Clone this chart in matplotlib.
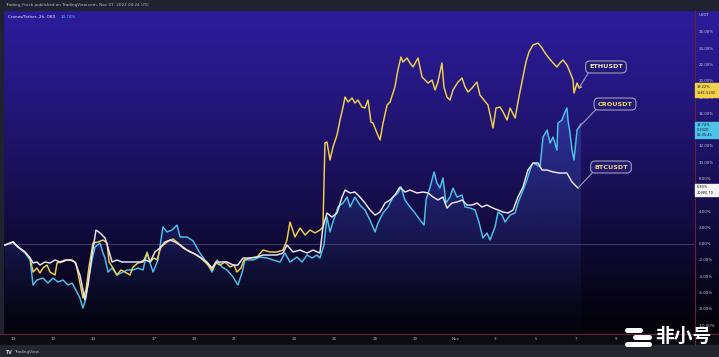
import numpy as np
import matplotlib
matplotlib.use("Agg")
import matplotlib.pyplot as plt
from matplotlib.patches import Rectangle, PathPatch

# ---------------- data (days since Oct 10 00:00 UTC, % change) ----------------
eth_days = [-0.40, 0.00, 0.25, 0.60, 0.85, 1.00, 1.19, 1.34, 1.49, 1.69,
            1.84, 2.09, 2.19, 2.44, 2.69, 2.94, 3.13, 3.33, 3.48, 3.63,
            3.78, 3.98, 4.23, 4.48, 4.68, 4.78, 4.98, 5.17, 5.37, 5.57,
            5.82, 5.97, 6.22, 6.47, 6.67, 6.82, 7.01, 7.16, 7.36, 7.66,
            7.96, 8.21, 8.46, 8.81, 9.15, 9.45, 9.70, 9.90, 10.10, 10.30,
            10.55, 10.80, 11.00, 11.14, 11.34, 11.49, 11.79, 12.14, 12.44, 12.79,
            13.13, 13.43, 13.63, 13.78, 14.03, 14.28, 14.53, 14.78, 15.02, 15.27,
            15.42, 15.52, 15.62, 15.77, 15.92, 16.12, 16.27, 16.42, 16.52, 16.67,
            16.87, 17.01, 17.16, 17.36, 17.51, 17.66, 17.81, 17.91, 18.11, 18.26,
            18.41, 18.61, 18.76, 19.00, 19.15, 19.30, 19.40, 19.60, 19.75, 19.90,
            20.15, 20.35, 20.50, 20.65, 20.85, 21.00, 21.14, 21.34, 21.44, 21.59,
            21.74, 21.89, 22.14, 22.34, 22.49, 22.64, 22.84, 23.08, 23.23, 23.43,
            23.63, 23.88, 24.03, 24.23, 24.38, 24.58, 24.73, 24.98, 25.17, 25.37,
            25.52, 25.67, 25.87, 26.12, 26.32, 26.47, 26.62, 26.87, 27.06, 27.21,
            27.36, 27.56, 27.71, 27.86, 27.91, 28.06, 28.16, 28.26]
eth_pct = [-0.17, 0.20, -0.42, -1.03, -1.77, -3.49, -3.00, -3.61, -3.00, -2.63,
           -3.49, -3.86, -2.38, -2.26, -2.01, -2.01, -2.38, -4.84, -6.68, -5.70,
           -2.87, 0.07, 0.20, 0.44, 0.07, -2.26, -3.00, -3.86, -3.24, -3.49,
           -3.86, -2.87, -2.38, -2.26, -1.16, -2.26, -1.77, -2.01, -0.42, 0.20,
           0.57, 0.07, -0.54, -1.03, -1.40, -2.01, -2.63, -3.24, -2.38, -2.63,
           -2.26, -2.87, -2.63, -3.49, -3.00, -2.01, -1.77, -1.65, -0.79, -1.03,
           -1.03, -0.79, 0.44, 2.65, 0.82, 1.92, 1.06, 1.67, 1.31, 1.67,
           2.04, 12.36, 12.48, 10.27, 11.87, 13.34, 15.18, 16.78, 18.01, 17.40,
           17.89, 17.27, 17.64, 16.78, 16.66, 17.64, 14.94, 14.81, 13.59, 12.73,
           14.81, 17.03, 17.40, 19.24, 21.33, 22.92, 22.31, 22.80, 22.19, 21.70,
           22.80, 20.47, 20.10, 19.73, 20.10, 18.87, 19.85, 22.19, 19.24, 18.01,
           17.64, 18.87, 19.85, 20.34, 19.24, 18.62, 19.12, 19.85, 18.26, 17.64,
           17.03, 14.20, 16.66, 16.78, 16.17, 15.18, 16.66, 15.43, 18.01, 20.47,
           22.31, 23.54, 24.40, 24.64, 24.03, 23.42, 22.92, 22.19, 21.70, 22.19,
           22.56, 21.94, 21.08, 20.10, 18.50, 19.73, 19.12, 19.24]

cro_days = [-0.40, 0.00, 0.25, 0.60, 0.85, 1.00, 1.19, 1.49, 1.74, 1.99,
            2.24, 2.49, 2.74, 2.94, 3.18, 3.33, 3.48, 3.63, 3.73, 3.93,
            4.08, 4.33, 4.48, 4.58, 4.73, 4.93, 5.17, 5.47, 5.67, 5.97,
            6.22, 6.47, 6.67, 6.82, 6.97, 7.21, 7.46, 7.66, 7.91, 8.16,
            8.31, 8.66, 8.96, 9.30, 9.65, 9.90, 10.15, 10.40, 10.65, 10.95,
            11.19, 11.39, 11.54, 11.94, 12.29, 12.64, 12.94, 13.28, 13.53, 13.78,
            14.13, 14.38, 14.63, 14.88, 15.12, 15.27, 15.47, 15.62, 15.77, 15.92,
            16.17, 16.42, 16.62, 16.77, 17.01, 17.26, 17.51, 17.76, 18.01, 18.16,
            18.41, 18.66, 18.91, 19.15, 19.30, 19.50, 19.75, 20.00, 20.25, 20.45,
            20.55, 20.75, 20.95, 21.09, 21.24, 21.39, 21.54, 21.74, 21.89, 22.09,
            22.34, 22.49, 22.74, 22.99, 23.18, 23.38, 23.58, 23.73, 23.98, 24.13,
            24.33, 24.48, 24.73, 24.98, 25.12, 25.32, 25.57, 25.72, 25.87, 26.07,
            26.22, 26.37, 26.57, 26.72, 26.87, 27.06, 27.11, 27.31, 27.46, 27.56,
            27.61, 27.71, 27.81, 27.91, 28.06, 28.16, 28.26]
cro_pct = [-0.17, 0.20, -0.42, -1.16, -2.01, -5.09, -4.47, -4.23, -4.84, -4.23,
           -4.72, -4.47, -5.09, -4.84, -5.95, -6.68, -7.91, -6.68, -4.84, -2.01,
           -0.42, 0.07, -1.16, -1.77, -3.49, -3.00, -3.86, -3.49, -3.24, -3.24,
           -3.00, -3.24, -1.03, -2.38, -3.49, -2.01, 2.04, 1.43, 1.67, 2.28,
           0.82, 0.82, 0.32, -1.16, -2.38, -3.49, -2.01, -2.87, -3.24, -4.10,
           -5.09, -3.61, -2.01, -2.01, -1.65, -1.77, -2.01, -2.26, -1.16, -2.26,
           -1.65, -2.26, -1.40, -1.77, -1.40, -1.77, -0.17, 3.27, 1.43, 2.65,
           4.50, 4.99, 5.72, 4.50, 5.72, 4.74, 4.13, 2.90, 1.43, 2.53,
           3.76, 4.50, 5.72, 6.22, 6.95, 5.36, 4.50, 3.76, 2.90, 2.28,
           5.36, 6.95, 8.80, 7.44, 6.83, 8.06, 4.99, 5.72, 6.83, 5.72,
           5.97, 4.50, 4.37, 4.13, 2.65, 0.69, 1.31, 0.44, 2.04, 3.88,
           3.51, 2.65, 3.51, 3.76, 4.99, 6.22, 7.81, 9.04, 9.90, 9.66,
           9.41, 13.10, 13.95, 12.36, 13.10, 11.50, 14.81, 15.18, 16.17, 16.66,
           15.18, 13.59, 11.50, 10.27, 13.95, 14.32, 14.69]

btc_days = [-0.40, 0.00, 0.25, 0.60, 0.85, 1.00, 1.19, 1.34, 1.59, 1.84,
            2.09, 2.34, 2.59, 2.84, 3.08, 3.33, 3.58, 3.73, 3.93, 4.13,
            4.33, 4.58, 4.73, 4.93, 5.17, 5.42, 5.67, 5.97, 6.32, 6.57,
            6.82, 7.06, 7.31, 7.56, 7.81, 8.06, 8.31, 8.66, 8.96, 9.30,
            9.65, 9.90, 10.10, 10.40, 10.65, 10.95, 11.19, 11.44, 11.79, 12.14,
            12.44, 12.79, 13.13, 13.43, 13.63, 13.93, 14.28, 14.63, 14.93, 15.27,
            15.42, 15.62, 15.87, 16.12, 16.37, 16.52, 16.77, 17.01, 17.26, 17.51,
            17.76, 18.01, 18.26, 18.51, 18.76, 19.00, 19.25, 19.50, 19.75, 20.10,
            20.40, 20.65, 20.90, 21.14, 21.39, 21.59, 21.84, 22.09, 22.34, 22.59,
            22.84, 23.08, 23.33, 23.58, 23.88, 24.13, 24.38, 24.63, 24.88, 25.12,
            25.37, 25.62, 25.87, 26.12, 26.32, 26.57, 26.87, 27.21, 27.56, 27.81,
            27.96, 28.11]
btc_pct = [-0.17, 0.20, -0.42, -1.03, -1.77, -2.38, -2.26, -2.63, -2.26, -2.38,
           -2.01, -2.26, -2.01, -2.01, -2.26, -3.86, -6.93, -5.09, -1.40, 1.67,
           1.31, 0.69, -0.54, -2.26, -2.01, -2.26, -2.26, -2.26, -2.26, -2.01,
           -2.26, -1.03, -0.54, 0.20, 0.44, 0.20, -0.17, -0.79, -1.16, -1.65,
           -2.26, -3.00, -2.26, -2.26, -2.26, -2.63, -2.63, -1.77, -1.77, -1.65,
           -1.40, -1.40, -1.40, -1.16, -0.17, -1.03, -0.79, -1.16, -0.79, -1.16,
           2.04, 3.76, 3.27, 3.76, 5.72, 6.58, 6.22, 6.34, 5.72, 4.99,
           4.13, 3.51, 3.88, 4.99, 5.36, 5.97, 6.95, 6.34, 6.58, 6.22,
           6.34, 6.22, 5.72, 5.36, 5.72, 4.37, 4.99, 5.11, 5.36, 4.74,
           4.74, 4.99, 4.50, 4.74, 4.37, 4.13, 3.88, 3.76, 4.13, 5.72,
           6.95, 9.04, 9.90, 9.90, 9.04, 9.04, 8.80, 8.67, 8.67, 7.57,
           7.20, 6.83]

x_tick_days = [0, 2, 4, 7, 9, 11, 14, 16, 18, 20, 22, 24, 26, 28, 30]
x_tick_labels = ["10", "12", "14", "17", "19", "21", "24", "26", "28", "30",
                 "Nov", "3", "5", "7", "9"]
y_ticks = list(range(-10, 27, 2))
y_ticks_hidden = [6, 14]          # covered by the last-value labels
series_names = ["ETHUSDT", "CROUSDT", "BTCUSDT"]
last_labels = {"ETHUSDT": ["19.22%", "1581.5200"],
               "CROUSDT": ["14.74%", "0.1020", "01:35:45"],
               "BTCUSDT": ["6.80%", "20980.70"]}

# ---------------- styling ----------------
W, H = 719, 357
ETH_C, CRO_C, BTC_C = "#f0d24a", "#4cc4ea", "#ece6fa"
AX_L, AX_R, AX_T, AX_B = 3, 694, 10, 333
XMIN, XMAX = -0.4975, 33.88
YMIN, YMAX = -10.98, 28.70

fig = plt.figure(figsize=(W / 100, H / 100), dpi=100)
fig.patch.set_facecolor("#1f2230")

bg = fig.add_axes([0, 0, 1, 1], zorder=0)
bg.set_xlim(0, W)
bg.set_ylim(H, 0)
bg.axis("off")

# vertical gradient background
stops_y = np.array([10, 80, 160, 240, 300, 333], dtype=float)
stops_c = np.array([[44, 28, 156], [38, 24, 132], [28, 17, 96],
                    [16, 10, 56], [6, 4, 22], [2, 2, 8]], dtype=float) / 255
yy = np.linspace(10, 333, 400)
grad = np.stack([np.interp(yy, stops_y, stops_c[:, k]) for k in range(3)], axis=1)
bg.imshow(grad[:, None, :], extent=[0, W, 333, 10], aspect="auto",
          interpolation="bilinear", zorder=0)
# header / footer / left strip
bg.add_patch(Rectangle((0, 0), W, 10, color="#1f2230", zorder=1))
bg.add_patch(Rectangle((0, 333), W, 12, color="#0b0b12", zorder=1))
bg.add_patch(Rectangle((0, 345), W, 12, color="#23262f", zorder=1))
bg.add_patch(Rectangle((0, 10), 3, 323, color="#1f2230", zorder=1))
# axis border lines
bg.plot([694.5, 694.5], [10, 345], color="#6a2035", lw=0.8, zorder=2)
bg.plot([0, W], [333.5, 333.5], color="#6a2035", lw=0.8, zorder=2)

bg.text(5, 5, "Trading_Fresh published on TradingView.com, Nov 07, 2022 04:24 UTC",
        fontsize=3.0, color="#b8bcc8", va="center", ha="left", zorder=3)
bg.text(8, 17, "Cronos/Tether, 2h, OKX", fontsize=3.0, color="#eeeeee",
        va="center", ha="left", zorder=3)
bg.text(61, 17, "14.74%", fontsize=3.0, color=CRO_C, va="center", ha="left", zorder=3)
bg.text(699, 15, "USDT", fontsize=2.9, color="#c8c8d0", va="center", ha="left", zorder=3)
bg.text(5, 352, "TV", fontsize=3.4, color="#d0d0d8", fontweight="bold",
        va="center", ha="left", zorder=3)
bg.text(14, 352, "TradingView", fontsize=3.0, color="#c0c0c8",
        va="center", ha="left", zorder=3)

# ---------------- main axes ----------------
ax = fig.add_axes([AX_L / W, (H - AX_B) / H, (AX_R - AX_L) / W, (AX_B - AX_T) / H],
                  zorder=2)
ax.patch.set_alpha(0)
for s in ax.spines.values():
    s.set_visible(False)

ax.axhline(0, color="#4a4470", lw=0.6, zorder=1)

# gradient fill under CRO line
fill = ax.fill_between(cro_days, cro_pct, YMIN, facecolor="none", edgecolor="none")
clip = PathPatch(fill.get_paths()[0], transform=ax.transData,
                 facecolor="none", edgecolor="none")
ax.add_patch(clip)
gy = np.linspace(0, 1, 256)
rgba = np.zeros((256, 1, 4))
rgba[..., 0] = 70 / 255
rgba[..., 1] = 115 / 255
rgba[..., 2] = 235 / 255
rgba[:, 0, 3] = 0.02 + 0.30 * gy ** 1.2
im = ax.imshow(rgba, extent=[min(cro_days), max(cro_days), YMIN, max(cro_pct)],
               origin="lower", aspect="auto", zorder=1.5, interpolation="bilinear")
im.set_clip_path(clip)

ax.plot(cro_days, cro_pct, color=CRO_C, lw=1.05, zorder=3, solid_joinstyle="round")
ax.plot(eth_days, eth_pct, color=ETH_C, lw=1.05, zorder=4, solid_joinstyle="round")
ax.plot(btc_days, btc_pct, color=BTC_C, lw=1.05, zorder=5, solid_joinstyle="round")

ax.set_xlim(XMIN, XMAX)
ax.set_ylim(YMIN, YMAX)

ax.set_xticks(x_tick_days)
ax.set_xticklabels(x_tick_labels)
ax.tick_params(axis="x", length=0, pad=3.2, labelsize=2.9, colors="#b4b4bc")
ax.yaxis.tick_right()
ax.set_yticks(y_ticks)
ax.set_yticklabels(["" if v in y_ticks_hidden else f"{v:.2f}%" for v in y_ticks])
ax.tick_params(axis="y", length=0, pad=3.5, labelsize=2.9, colors="#c8c8d0")

# callouts
box_kw = dict(boxstyle="round,pad=0.55,rounding_size=0.7", fc="#231a78",
              ec="#a09cb8", lw=0.8)
callouts = [
    ("ETHUSDT", (eth_days[-2], eth_pct[-2]), (29.50, 21.70), "#f4ecc8"),
    ("CROUSDT", (cro_days[-2], cro_pct[-2]), (29.95, 17.15), "#f2d868"),
    ("BTCUSDT", (btc_days[-1], btc_pct[-1]), (29.75, 9.41), "#f2d868"),
]
for name, xy, xyt, tc in callouts:
    ax.annotate(name, xy=xy, xytext=xyt, textcoords="data", ha="center", va="center",
                fontsize=4.6, fontweight="bold", color=tc, bbox=box_kw, zorder=6,
                arrowprops=dict(arrowstyle="-", color="#a09cb8", lw=0.8,
                                relpos=(0.05, 0.1), shrinkA=0, shrinkB=0))

# overlay axes (figure pixel coordinates) for price-scale labels and watermark
wm = fig.add_axes([0, 0, 1, 1], zorder=10)
wm.set_xlim(0, W)
wm.set_ylim(H, 0)
wm.axis("off")

label_boxes = [("ETHUSDT", 83, 97, ETH_C), ("CROUSDT", 122, 138, CRO_C),
               ("BTCUSDT", 184, 196, "#f4f4f8")]
for name, y0, y1, col in label_boxes:
    wm.add_patch(Rectangle((695, y0), 24, y1 - y0, color=col, zorder=4))
    lines = last_labels[name]
    n = len(lines)
    for i, t in enumerate(lines):
        yc = y0 + (y1 - y0) * (i + 0.5) / n
        wm.text(697, yc, t, fontsize=2.5, color="#15151a", va="center", ha="left",
                zorder=5)

wm.text(683, 336, "非小号", fontsize=13.5, color="white", fontweight="bold",
        family=["Noto Sans CJK SC", "DejaVu Sans"], ha="center", va="center")
for (xa, xb, yv) in [(627, 640, 329.5), (649, 649, 329.5), (627, 627, 336.5),
                     (635, 649, 336.5), (627, 649, 343.5)]:
    wm.plot([xa, xb], [yv, yv], color="white", lw=3.6, solid_capstyle="round")

fig.savefig("out.png", dpi=100, facecolor=fig.get_facecolor())
